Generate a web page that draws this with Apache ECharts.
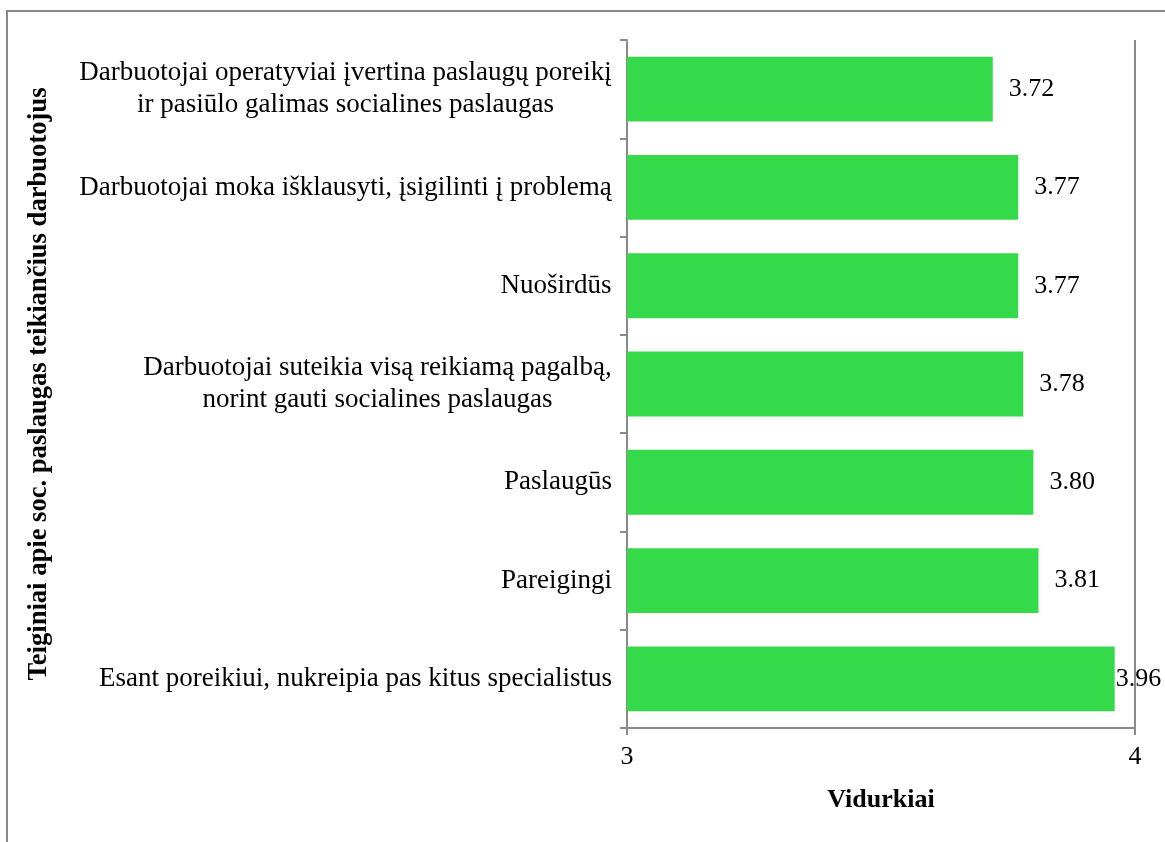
<!DOCTYPE html>
<html>
<head>
<meta charset="utf-8">
<script src="https://cdn.jsdelivr.net/npm/echarts@6/dist/echarts.min.js"></script>
<style>
  html, body { margin: 0; padding: 0; background: #fff; }
  #chart { width: 1165px; height: 842px; }
</style>
</head>
<body>
<div id="chart"></div>
<script>
// statements, top to bottom as shown
const categories = [
  "Darbuotojai operatyviai įvertina paslaugų poreikį\nir pasiūlo galimas socialines paslaugas",
  "Darbuotojai moka išklausyti, įsigilinti į problemą",
  "Nuoširdūs",
  "Darbuotojai suteikia visą reikiamą pagalbą,\nnorint gauti socialines paslaugas",
  "Paslaugūs",
  "Pareigingi",
  "Esant poreikiui, nukreipia pas kitus specialistus"
];
const values = [3.72, 3.77, 3.77, 3.78, 3.80, 3.81, 3.96];
const axisMin = 3;
const axisMax = 4;

const font = "Liberation Serif";
const catSize = 27;
const fontSize = 26;
const gray = "#8a8a8a";

// multi-line labels: center the lines inside a block that is right aligned
const ctx = document.createElement("canvas").getContext("2d");
ctx.font = catSize + "px '" + font + "'";
const rich = {};
categories.forEach((c, i) => {
  const w = Math.max(...c.split("\n").map(l => ctx.measureText(l).width));
  rich["r" + i] = { width: Math.ceil(w), align: "center", fontSize: catSize, fontFamily: font, color: "#000", lineHeight: 32 };
});

const chart = echarts.init(document.getElementById("chart"));
chart.setOption({
  animation: false,
  textStyle: { fontFamily: font },
  graphic: [{
    type: "rect",
    shape: { x: 7, y: 11, width: 1200, height: 900 },
    style: { fill: "none", stroke: gray, lineWidth: 2 }
  }],
  grid: { left: 627, right: 30, top: 40, bottom: 114 },
  xAxis: {
    type: "value",
    min: axisMin,
    max: axisMax,
    interval: 1,
    name: "Vidurkiai",
    nameLocation: "middle",
    nameGap: 59,
    nameTextStyle: { fontFamily: font, fontSize: fontSize, fontWeight: "bold", color: "#000" },
    axisLine: { show: true, lineStyle: { color: gray, width: 2 } },
    axisTick: { show: true, length: 7, lineStyle: { color: gray, width: 2 } },
    axisLabel: { fontFamily: font, fontSize: fontSize, color: "#000", margin: 16 },
    splitLine: { show: true, lineStyle: { color: gray, width: 2 } }
  },
  yAxis: {
    type: "category",
    inverse: true,
    data: categories,
    name: "Teiginiai apie soc. paslaugas teikiančius darbuotojus",
    nameLocation: "middle",
    nameGap: 574,
    nameTextStyle: { fontFamily: font, fontSize: 26.6, fontWeight: "bold", color: "#000" },
    axisLine: { show: true, lineStyle: { color: gray, width: 2 } },
    axisTick: { show: true, length: 7, lineStyle: { color: gray, width: 2 } },
    axisLabel: {
      margin: 15,
      fontFamily: font,
      fontSize: catSize,
      color: "#000",
      formatter: (val, idx) => val.split("\n").map(l => "{r" + idx + "|" + l + "}").join("\n"),
      rich: rich
    }
  },
  series: [{
    type: "bar",
    data: values.map((v, i) => i === values.length - 1
      ? { value: v, label: { distance: 1 } }
      : v),
    barCategoryGap: "34%",
    itemStyle: { color: "#34da4a" },
    label: {
      show: true,
      position: "right",
      distance: 16,
      fontFamily: font,
      fontSize: fontSize,
      color: "#000",
      formatter: p => p.value.toFixed(2)
    }
  }]
});
</script>
</body>
</html>
